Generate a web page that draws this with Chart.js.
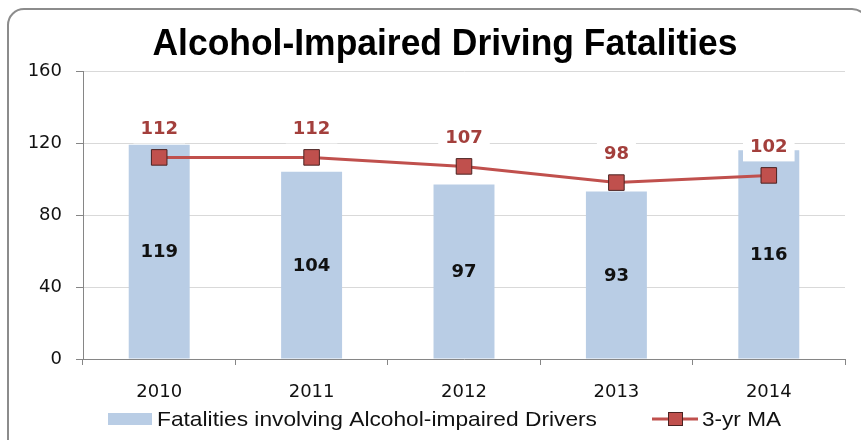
<!DOCTYPE html>
<html>
<head>
<meta charset="utf-8">
<script src="https://cdn.jsdelivr.net/npm/chart.js@4.4.1/dist/chart.umd.min.js"></script>
<style>
  html, body { margin: 0; padding: 0; background: #ffffff; }
  #wrap { width: 861px; height: 440px; position: relative; }
</style>
</head>
<body>
<div id="wrap"><canvas id="c" width="861" height="440"></canvas></div>
<script>
const years = ['2010', '2011', '2012', '2013', '2014'];
const fatalities = [119, 104, 97, 93, 116];
const movingAvg = [112, 112, 107, 98, 102];
const yTicks = [0, 40, 80, 120, 160];
const chartTitle = 'Alcohol-Impaired Driving Fatalities';
const barLabel = 'Fatalities involving Alcohol-impaired Drivers';
const lineLabel = '3-yr MA';

const BAR_COLOR = '#B9CDE5';
const LINE_COLOR = '#C0504D';
const LABEL_RED = '#A33F3C';
const SANS = '"Liberation Sans", Arial, sans-serif';
const VERD = '"DejaVu Sans", Verdana, sans-serif';

// draw text condensed horizontally to a target width (Calibri-like look)
function fitText(ctx, text, x, y, targetW, align) {
  const w = ctx.measureText(text).width;
  const s = targetW / w;
  ctx.save();
  ctx.textAlign = 'left';
  let left = x;
  if (align === 'center') left = x - targetW / 2;
  ctx.translate(left, y);
  ctx.scale(s, 1);
  ctx.fillText(text, 0, 0);
  ctx.restore();
}

const framePlugin = {
  id: 'frame',
  beforeDraw(chart) {
    const ctx = chart.ctx;
    ctx.save();
    ctx.fillStyle = '#ffffff';
    ctx.fillRect(0, 0, chart.width, chart.height);
    ctx.strokeStyle = '#8c8c8c';
    ctx.lineWidth = 2;
    ctx.beginPath();
    ctx.roundRect(8, 9, 860, 450, 16);
    ctx.stroke();
    ctx.restore();
  }
};

const decorPlugin = {
  id: 'decor',
  afterDatasetsDraw(chart) {
    const ctx = chart.ctx;
    ctx.save();
    const barMeta = chart.getDatasetMeta(0);
    ctx.font = 'bold 18px ' + VERD;
    ctx.fillStyle = '#111111';
    ctx.textAlign = 'center';
    ctx.textBaseline = 'middle';
    barMeta.data.forEach((el, i) => {
      ctx.fillText(String(fatalities[i]), el.x, (el.y + el.base) / 2 + 1);
    });
    const lineMeta = chart.getDatasetMeta(1);
    lineMeta.data.forEach((el, i) => {
      const t = String(movingAvg[i]);
      const w = ctx.measureText(t).width + 14;
      const cy = el.y - 28;
      ctx.fillStyle = '#ffffff';
      ctx.fillRect(el.x - w / 2, cy - 12, w, 26);
      ctx.fillStyle = LABEL_RED;
      ctx.fillText(t, el.x, cy);
    });
    ctx.restore();
  },
  afterDraw(chart) {
    const ctx = chart.ctx;
    ctx.save();
    ctx.fillStyle = '#000000';
    ctx.textBaseline = 'middle';
    ctx.font = 'bold 37px ' + SANS;
    fitText(ctx, chartTitle, 445, 45, 585, 'center');
    const ly = 419;
    ctx.fillStyle = BAR_COLOR;
    ctx.fillRect(108, ly - 6, 44, 12);
    ctx.font = '21px ' + SANS;
    ctx.fillStyle = '#111111';
    fitText(ctx, barLabel, 157, ly + 1, 440, 'left');
    ctx.strokeStyle = LINE_COLOR;
    ctx.lineWidth = 3;
    ctx.beginPath();
    ctx.moveTo(652, ly);
    ctx.lineTo(698, ly);
    ctx.stroke();
    ctx.fillStyle = LINE_COLOR;
    ctx.fillRect(668, ly - 7, 15, 14);
    ctx.strokeStyle = '#4a2221';
    ctx.lineWidth = 1;
    ctx.strokeRect(668.5, ly - 6.5, 14, 13);
    ctx.fillStyle = '#111111';
    fitText(ctx, lineLabel, 702, ly + 1, 79, 'left');
    ctx.restore();
  }
};

new Chart(document.getElementById('c'), {
  data: {
    labels: years,
    datasets: [
      {
        type: 'bar',
        label: barLabel,
        data: fatalities,
        backgroundColor: BAR_COLOR,
        barPercentage: 0.4,
        categoryPercentage: 1.0,
        order: 2
      },
      {
        type: 'line',
        label: lineLabel,
        data: movingAvg,
        borderColor: LINE_COLOR,
        borderWidth: 3,
        pointStyle: 'rect',
        pointRadius: 11,
        pointHoverRadius: 11,
        pointBackgroundColor: LINE_COLOR,
        pointBorderColor: '#4a2221',
        pointBorderWidth: 1,
        tension: 0,
        order: 1
      }
    ]
  },
  options: {
    responsive: false,
    animation: false,
    events: [],
    layout: { padding: { top: 71, left: 20, right: 16, bottom: 41 } },
    plugins: {
      legend: { display: false },
      title: { display: false },
      tooltip: { enabled: false }
    },
    scales: {
      x: {
        offset: true,
        afterFit(scale) { scale.height = 40; },
        grid: {
          offset: true,
          drawOnChartArea: false,
          drawTicks: true,
          tickLength: 6,
          tickColor: '#868686'
        },
        border: { color: '#868686', width: 1 },
        ticks: {
          font: { family: VERD, size: 18 },
          color: '#111111',
          padding: 17
        }
      },
      y: {
        min: 0,
        max: 160,
        afterFit(scale) { scale.width = 63; },
        afterBuildTicks(scale) { scale.ticks = yTicks.map(v => ({ value: v })); },
        grid: {
          color: '#d9d9d9',
          drawTicks: true,
          tickLength: 7,
          tickColor: '#868686'
        },
        border: { color: '#868686', width: 1 },
        ticks: {
          font: { family: VERD, size: 18 },
          color: '#111111',
          padding: 14
        }
      }
    }
  },
  plugins: [framePlugin, decorPlugin]
});
</script>
</body>
</html>
